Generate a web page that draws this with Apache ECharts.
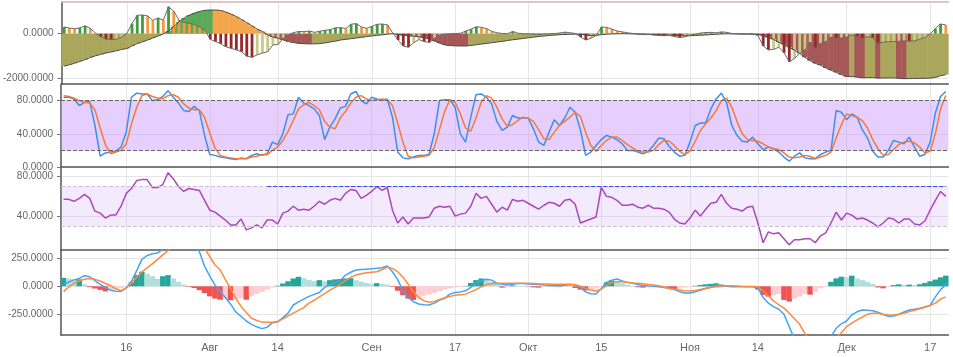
<!DOCTYPE html>
<html><head><meta charset="utf-8">
<script src="https://cdn.jsdelivr.net/npm/echarts@6/dist/echarts.min.js"></script>
<style>html,body{margin:0;padding:0;background:#fff}#c{width:953px;height:357px}</style>
</head><body><div id="c"></div>
<script>
// x tick labels (day index from 4 Jul)
const tickIndex = [12, 28, 41, 59, 75, 89, 103, 120, 133, 150, 166];
const tickText = ['16', 'Авг', '14', 'Сен', '17', 'Окт', '15', 'Ноя', '14', 'Дек', '17'];

// top panel: slow trend area
const trendA = [
-1440,-1380,-1310,-1230,-1150,-1060,-980,-920,-860,-810,
-760,-700,-660,-540,-440,-360,-280,-190,-100,-10,
120,320,520,700,830,920,990,1040,1055,1050,
1035,960,870,760,630,490,350,200,100,-50,
-150,-200,-280,-350,-400,-430,-445,-455,-450,-440,
-410,-370,-330,-280,-250,-220,-190,-160,-130,-100,
-70,-50,-20,0,-40,-70,-90,-110,-140,-180,
-240,-330,-420,-500,-530,-540,-545,-548,-520,-490,
-460,-430,-400,-370,-340,-300,-270,-240,-210,-180,
-150,-125,-100,-80,-60,-45,-35,-25,-20,-30,
-60,-80,-70,-40,-20,-10,-5,0,-5,-10,
-15,-25,-30,-40,-50,-60,-70,-80,-90,-95,
-90,-80,-70,-55,-40,-25,-10,-5,-10,-15,
-20,-20,-25,-30,-90,-170,-250,-380,-480,-600,
-730,-880,-1050,-1200,-1320,-1400,-1520,-1620,-1720,-1820,
-1910,-1900,-1930,-1960,-1955,-1950,-1975,-1970,-1968,-1965,
-1985,-2000,-1995,-1990,-1985,-1980,-1975,-1940,-1870,-1820
];
// top panel: fast oscillator histogram
const oscB = [
300,250,220,260,350,240,20,-130,-240,-260,
-250,-150,10,450,820,830,790,590,700,600,
1200,1000,600,500,460,400,300,150,-250,-350,
-450,-580,-650,-720,-800,-1000,-1050,-940,-860,-800,
-500,-480,-200,-50,50,100,90,120,60,110,
150,180,260,270,230,420,450,300,240,330,
420,430,390,20,-280,-550,-600,-400,-260,-350,
-390,-200,-60,-20,0,10,20,120,200,310,
280,220,100,40,10,0,100,20,0,-10,
-20,-30,-10,0,10,30,70,40,10,-150,
-280,-200,-80,300,280,200,120,80,40,10,
-20,-40,-30,-60,-80,-90,-70,-130,-170,-140,
-60,-20,30,50,60,40,80,60,10,0,
-10,0,-10,-80,-550,-720,-700,-600,-850,-1250,
-1100,-880,-720,-380,-640,-430,-350,-150,-200,-190,
-150,-60,-120,-200,-130,-180,-430,-380,-350,-350,
-340,-320,-330,-320,-250,-170,-10,230,430,390
];
// stochastic
const stochK = [
84,84,82,74,78,79,50,13,17,18,
19,24,42,84,89,88,88,80,81,85,
92,84,77,68,67,73,68,38,15,14,
12,11,10,9,11,10,14,16,14,16,
30,27,40,63,64,84,77,74,70,62,
33,48,58,71,73,88,91,80,76,84,
82,80,82,60,18,11,10,12,14,14,
15,40,80,81,81,72,40,30,60,87,
88,84,76,55,44,48,62,59,59,59,
46,30,26,42,57,50,59,72,66,45,
14,18,26,33,38,36,33,28,20,20,
18,16,19,26,35,34,25,18,13,14,
30,50,53,53,70,82,89,78,50,38,
31,30,36,28,21,24,22,18,12,7,
13,17,11,10,10,15,18,20,68,66,
57,64,60,45,35,19,12,12,20,32,
30,28,36,24,13,15,30,65,85,91
];
const stochD = [
86,85,83,80,78,77,69,47,27,16,
18,20,28,52,72,86,88,85,83,82,
86,87,84,76,71,69,69,60,41,23,
14,12,11,10,10,10,12,13,15,15,
20,24,32,43,56,70,75,78,74,69,
55,48,46,59,67,77,84,86,82,80,
81,82,81,74,53,30,13,11,12,13,
14,23,45,67,81,78,64,47,43,59,
78,86,83,72,58,49,51,56,60,59,
55,45,34,33,42,50,55,60,66,61,
42,26,19,26,32,36,36,32,27,23,
19,18,18,20,27,32,31,26,19,15,
19,31,44,52,59,68,80,83,72,55,
40,33,32,31,28,24,22,21,17,12,
11,12,14,13,10,12,14,18,35,51,
64,62,60,56,47,33,22,14,15,21,
27,30,31,29,24,17,19,40,70,86
];
// RSI
const rsi = [
57,57,55,58,62,58,45,43,38,41,
41,50,63,68,76,77,77,69,69,72,
84,78,70,65,68,67,66,56,46,44,
40,36,31,31,37,26,28,31,28,36,
36,32,43,45,50,46,47,46,50,55,
52,56,58,56,63,67,66,58,61,65,
70,66,69,46,33,39,32,38,38,38,
39,48,50,49,50,40,42,43,50,63,
58,60,52,44,49,46,57,55,56,53,
50,47,51,54,53,50,56,57,52,33,
35,37,39,69,60,59,56,51,51,52,
49,48,51,48,48,47,44,37,33,32,
38,46,40,47,53,54,62,53,48,47,
45,49,50,33,13,24,22,23,17,11,
16,16,17,17,13,20,23,33,44,36,
43,41,37,38,36,33,29,33,38,37,
33,37,37,32,31,35,46,56,65,60
];
// MACD
const macd = [
18,38,57,70,95,85,50,18,-10,-35,
-45,-46,-15,45,140,240,275,290,298,330,
370,410,430,420,400,360,310,180,90,10,
-48,-100,-160,-230,-270,-310,-340,-362,-378,-365,
-325,-318,-280,-240,-167,-140,-115,-90,-72,-55,
-10,15,30,50,100,125,145,150,153,156,
160,165,182,130,60,-40,-100,-137,-158,-165,
-167,-150,-125,-105,-70,-55,-50,-40,-10,25,
50,62,55,27,18,12,18,25,24,20,
18,15,12,10,8,5,10,15,12,-10,
-50,-67,-69,-20,35,55,65,48,35,27,
15,8,3,0,-4,-10,-18,-30,-48,-60,
-60,-48,-35,-20,-8,8,10,0,-4,-4,
-4,-4,-4,-15,-100,-150,-182,-205,-250,-360,
-470,-560,-620,-660,-660,-620,-560,-450,-375,-335,
-310,-255,-228,-212,-214,-218,-232,-252,-268,-265,
-250,-230,-212,-205,-196,-185,-170,-95,-30,15
];
const signal = [
-48,-5,27,48,62,70,62,47,25,5,
-22,-40,-15,30,80,130,165,200,240,280,
320,360,390,410,415,405,380,340,265,190,
145,60,-20,-110,-180,-235,-285,-305,-320,-322,
-321,-315,-290,-265,-240,-215,-190,-150,-125,-95,
-65,-35,-10,20,50,80,100,112,120,125,
130,150,172,160,130,80,20,-50,-100,-128,
-143,-135,-118,-105,-90,-80,-75,-70,-50,-30,
-5,15,22,27,27,27,27,27,27,27,
25,23,21,20,18,18,18,18,15,0,
-20,-33,-42,-25,5,35,40,41,35,30,
27,22,16,12,5,-8,-20,-26,-34,-40,
-42,-38,-28,-18,-10,-5,0,5,5,3,
0,-2,-3,-4,-40,-85,-130,-165,-195,-240,
-290,-340,-420,-490,-530,-545,-540,-510,-460,-415,
-360,-330,-300,-275,-250,-241,-241,-250,-256,-256,
-250,-240,-226,-215,-200,-188,-172,-150,-115,-95
];
const hist = [
75,68,60,62,18,-8,-20,-32,-45,-40,
-28,-15,-5,35,100,130,110,90,65,90,
100,70,40,15,-5,-15,-35,-60,-90,-110,
-120,-110,-125,-115,-108,-120,-90,-70,-50,-30,
-10,5,25,45,70,85,72,58,45,55,
45,55,62,65,70,72,55,42,30,20,
28,24,15,-5,-40,-80,-110,-122,-100,-85,
-75,-60,-45,-30,-18,-10,-5,3,30,55,
70,60,40,25,-12,-8,8,5,3,-3,
-10,-12,-5,5,12,18,15,10,-15,-30,
-37,-30,-20,-8,35,53,40,28,15,5,
-8,-12,-5,2,4,-3,-15,-27,-20,-12,
-8,5,12,18,22,27,20,5,2,0,
-2,-3,-2,-30,-77,-92,-80,-70,-122,-137,
-110,-92,-70,-75,-50,-18,-5,40,71,86,
80,95,70,55,40,20,-10,-18,-8,10,
18,12,15,10,18,30,45,60,80,95
];

const N = trendA.length;
const FONT = 'Liberation Sans, Arial, sans-serif';
function pts(arr) { return arr.map((v, i) => [i, v]); }
function dirColor(arr, i, c) {
  const v = arr[i], p = i > 0 ? arr[i - 1] : v;
  if (v >= 0) return v >= p ? c.pu : c.pd;
  return v < p ? c.nd : c.nu;
}
function colored(arr, c) {
  return arr.map((v, i) => ({ value: [i, v], itemStyle: { color: dirColor(arr, i, c) } }));
}
const A_COL = { pu: '#58a958', pd: '#f5a54c', nd: '#a65757', nu: '#aaa75c' };
const B_COL = { pu: '#3f9c3f', pd: '#f39b3c', nd: '#962828', nu: '#c8c888' };
const H_COL = { pu: '#26a69a', pd: '#b2dfdb', nd: '#ef5350', nu: '#ffcdd2' };

const L = 61, R = 4.6;
const grid = [
  { left: L, right: R, top: 2, height: 82 },
  { left: L, right: R, top: 84, height: 83 },
  { left: L, right: R, top: 167, height: 83 },
  { left: L, right: R, top: 250, height: 85 }
];
function xAx(k, showLabel, hidden) {
  return {
    type: 'value', gridIndex: k, min: -0.5, max: N - 0.5, show: !hidden,
    axisLine: { show: true, onZero: false, lineStyle: { color: '#555', width: 1.5 } },
    axisTick: { show: false, customValues: tickIndex },
    axisLabel: {
      show: showLabel, customValues: tickIndex,
      formatter: v => tickText[tickIndex.indexOf(Math.round(v))] || '',
      color: '#666', fontSize: 11, margin: 7, fontFamily: FONT
    },
    splitLine: { show: true, lineStyle: { color: '#e6e6e6', width: 1 } }
  };
}
function yAx(k, min, max, vals) {
  return {
    type: 'value', gridIndex: k, min: min, max: max,
    axisLine: { show: true, onZero: false, lineStyle: { color: '#555', width: 1.5 } },
    axisTick: { show: true, length: 4, customValues: vals, lineStyle: { color: '#777' } },
    axisLabel: { customValues: vals, formatter: v => Number(v).toFixed(4), color: '#666', fontSize: 10, margin: 8, fontFamily: FONT },
    splitLine: { show: true, lineStyle: { color: '#e6e6e6', width: 1 } }
  };
}
const topEdge = {
  type: 'value', gridIndex: 0, position: 'top', min: -0.5, max: N - 0.5,
  axisLine: { show: true, onZero: false, lineStyle: { color: '#d8b4b4', width: 1.5 } },
  axisTick: { show: false }, axisLabel: { show: false }, splitLine: { show: false }
};
const noLine = { symbol: 'none', label: { show: false } };

const option = {
  animation: false,
  backgroundColor: '#fff',
  textStyle: { fontFamily: FONT },
  grid: grid,
  xAxis: [xAx(0, false), xAx(1, false), xAx(2, false), xAx(3, true), xAx(0, false, true), topEdge],
  yAxis: [
    yAx(0, -2236, 1409, [0, -2000]),
    yAx(1, 0, 100, [0, 40, 80]),
    yAx(2, 5.6, 89.8, [40, 80]),
    yAx(3, -435, 324, [-250, 0, 250])
  ],
  series: [
    { type: 'bar', xAxisIndex: 0, yAxisIndex: 0, barWidth: 5.7, data: colored(trendA, A_COL), z: 1 },
    { type: 'bar', xAxisIndex: 4, yAxisIndex: 0, barWidth: 2.8, data: colored(oscB, B_COL), z: 2 },
    { type: 'line', xAxisIndex: 0, yAxisIndex: 0, data: pts(trendA), symbol: 'none', lineStyle: { color: '#4a4a4a', width: 1 }, z: 3 },
    { type: 'line', xAxisIndex: 0, yAxisIndex: 0, data: pts(oscB), symbol: 'none', lineStyle: { color: '#6a6a6a', width: 1 }, z: 3 },

    { type: 'line', xAxisIndex: 1, yAxisIndex: 1, data: pts(stochK), symbol: 'none', lineStyle: { color: '#3d8fe8', width: 1.5 },
      markArea: { silent: true, itemStyle: { color: 'rgba(200,150,250,0.46)' }, data: [[{ yAxis: 20 }, { yAxis: 80 }]] },
      markLine: Object.assign({ silent: true, lineStyle: { color: '#666', type: 'dashed', width: 1 }, data: [{ yAxis: 20 }, { yAxis: 80 }] }, noLine) },
    { type: 'line', xAxisIndex: 1, yAxisIndex: 1, data: pts(stochD), symbol: 'none', lineStyle: { color: '#f5793a', width: 1.5 } },

    { type: 'line', xAxisIndex: 2, yAxisIndex: 2, data: pts(rsi), symbol: 'none', lineStyle: { color: '#ab47bc', width: 1.5 },
      markArea: { silent: true, itemStyle: { color: 'rgba(200,150,250,0.2)' }, data: [[{ yAxis: 30 }, { yAxis: 70 }]] },
      markLine: Object.assign({ silent: true, lineStyle: { color: '#cbbfd2', type: 'dashed', width: 1 },
        data: [{ yAxis: 30 }, { yAxis: 70 },
          [{ coord: [39, 70], lineStyle: { color: '#3348ee', type: 'dashed', width: 1 } }, { coord: [N - 1, 70] }]] }, noLine) },

    { type: 'bar', xAxisIndex: 3, yAxisIndex: 3, barWidth: 5.5, data: colored(hist, H_COL), z: 1 },
    { type: 'line', xAxisIndex: 3, yAxisIndex: 3, data: pts(macd), symbol: 'none', lineStyle: { color: '#42a5f5', width: 1.5 }, z: 3 },
    { type: 'line', xAxisIndex: 3, yAxisIndex: 3, data: pts(signal), symbol: 'none', lineStyle: { color: '#ff8a3d', width: 1.5 }, z: 3 }
  ]
};
const chart = echarts.init(document.getElementById('c'), null, { renderer: 'canvas' });
chart.setOption(option);
</script>
</body></html>
